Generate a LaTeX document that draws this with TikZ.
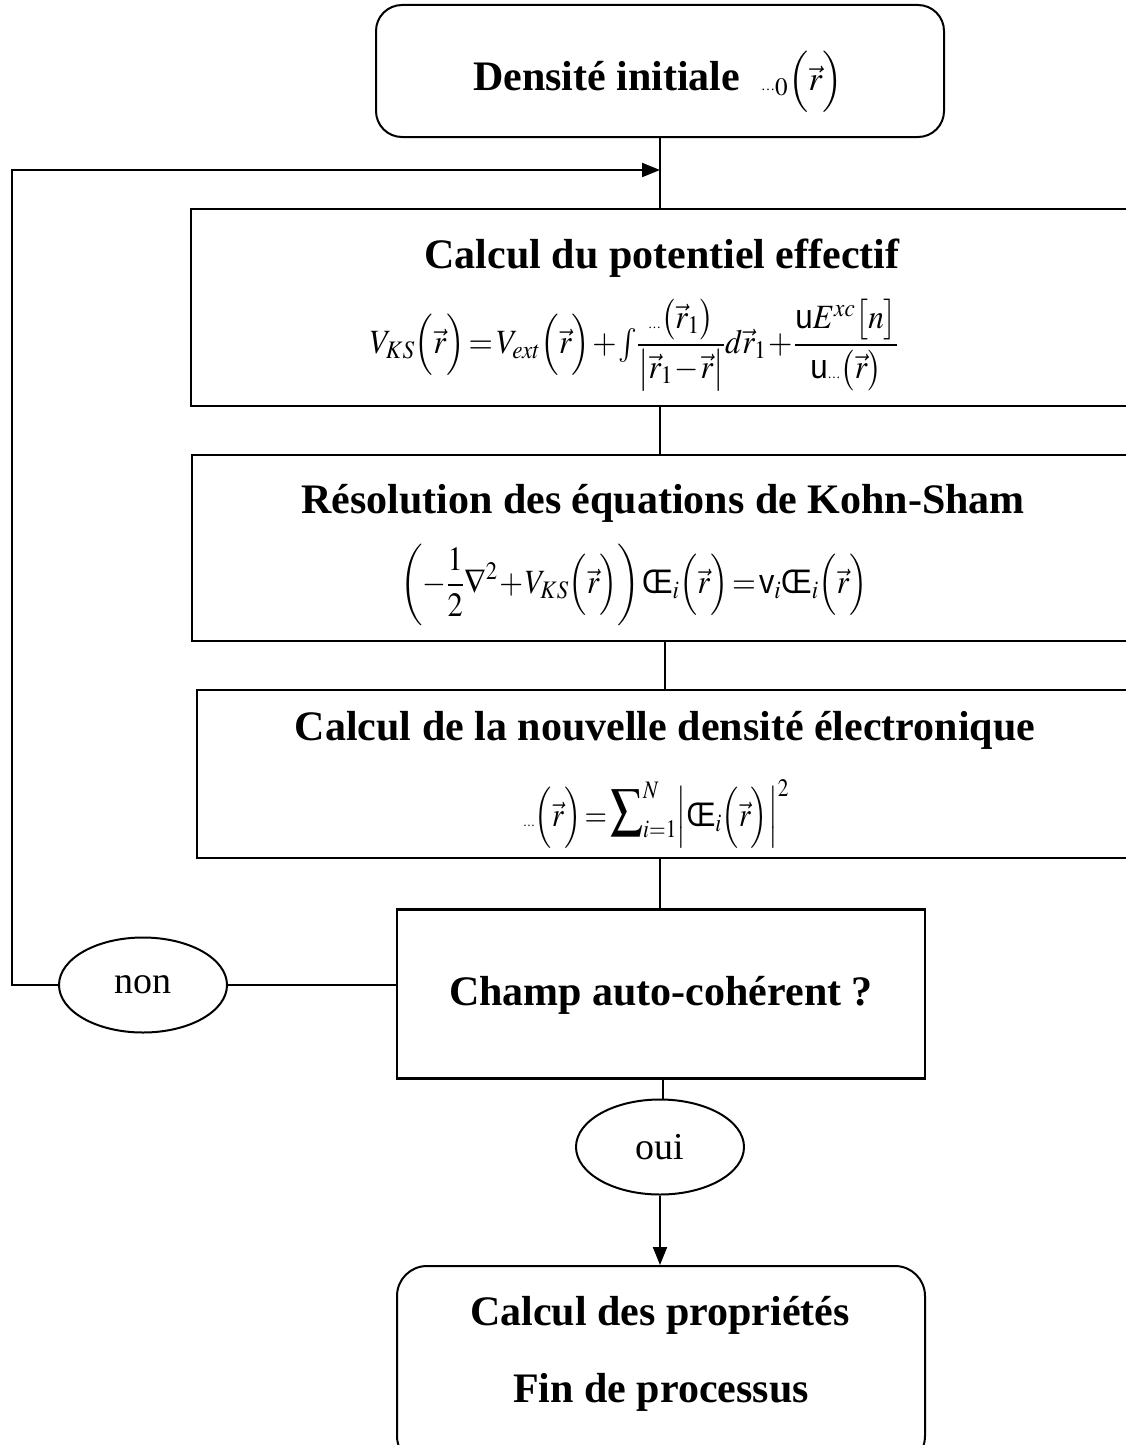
\documentclass[tikz,border=0pt]{standalone}
\usepackage{amsmath}
\usepackage{mathptmx}
\usepackage{fontspec}
\setmainfont{Liberation Serif}
\newfontfamily\garb{Liberation Sans}
\usetikzlibrary{arrows.meta,shapes.geometric}
\newcommand{\gr}{\text{\normalfont\fontsize{14}{14}\selectfont …}}
\newcommand{\gd}{\text{\garb u}}
\newcommand{\gpsi}{\text{\garb Œ}}
\newcommand{\geps}{\text{\garb v}}
\newcommand{\pr}{\Bigl(\vec{r}\Bigr)}
\newcommand{\prs}{\bigl(\vec{r}\bigr)}
\newcommand{\prone}{\bigl(\vec{r}_{1}\bigr)}
\newcommand{\tight}{\thickmuskip=2mu\medmuskip=1mu\thinmuskip=1mu}
\begin{document}
\begin{tikzpicture}[x=1pt,y=-1pt,
  boxst/.style={draw, line width=2.2pt, rectangle, inner sep=0pt},
  rbox/.style={draw, line width=2pt, rounded corners=26pt, rectangle, inner sep=0pt},
  ell/.style={draw, ellipse, line width=2pt, minimum width=168pt, minimum height=95pt, inner sep=0pt, font=\fontsize{38}{40}\selectfont},
  ttl/.style={anchor=base, font=\fontsize{42}{48}\selectfont\bfseries, inner sep=0pt},
  frm/.style={font=\fontsize{34}{40}\selectfont, inner sep=0pt},
  conn/.style={line width=2pt},
  arr/.style={line width=2pt, -{Triangle[length=18pt,width=14pt]}}
]
\useasboundingbox (0,0) rectangle (1125,1445);
% boxes
\node[rbox, minimum width=568pt, minimum height=132pt] (b1) at (660,71) {};
\node[boxst, minimum width=945pt, minimum height=197pt] (b2) at (663.5,307.5) {};
\node[boxst, minimum width=944pt, minimum height=186pt] (b3) at (664,548) {};
\node[boxst, minimum width=939pt, minimum height=168pt] (b4) at (666.5,774) {};
\node[boxst, minimum width=528pt, minimum height=169pt] (b5) at (661,994) {};
\node[rbox, rounded corners=30pt, minimum width=528pt, minimum height=200pt] (b6) at (661,1366) {};
\node[ell] (non) at (143,985) {non};
\node[ell] (oui) at (660,1147) {oui};
% texts
\node[ttl] (t1) at (658,90) {Densité initiale\ \ {\mdseries\fontsize{34}{40}\selectfont$\gr_{0}\pr$}};
\node[ttl] (t2) at (662,268) {Calcul du potentiel effectif};
\node[frm] (f2) at (634,345) {\scalebox{0.92}[1]{$\tight\displaystyle V_{KS}\pr=V_{ext}\pr+{\textstyle\int}\frac{\gr\prone}{\bigl|\vec r_{1}-\vec r\bigr|}d\vec r_{1}+\frac{\gd E^{xc}\bigl[n\bigr]}{\gd\gr\prs}$}};
\node[ttl] (t3) at (663,513) {Résolution des équations de Kohn-Sham};
\node[frm] (f3) at (634,585) {\scalebox{0.9}[1]{$\tight\displaystyle\left(-\frac{1}{2}\nabla^{2}+V_{KS}\pr\right)\gpsi_{i}\pr=\geps_{i}\gpsi_{i}\pr$}};
\node[ttl] (t4) at (665,740) {Calcul de la nouvelle densité électronique};
\node[frm] (f4) at (656,814) {\scalebox{0.85}[1]{$\tight\displaystyle\gr\pr=\mathop{\scalebox{1.6}{$\sum$}}\nolimits_{i=1}^{N}\Bigl|\gpsi_{i}\pr\Bigr|^{2}$}};
\node[ttl] (t5) at (661,1005) {Champ auto-cohérent ?};
\node[ttl] (t6a) at (660,1325) {Calcul des propriétés};
\node[ttl] (t6b) at (661,1402) {Fin de processus};
% connectors
\coordinate (jn) at (660,170);
\coordinate (cT) at (12,170);
\coordinate (cL) at (12,985);
\draw[conn] (b1.south) -- (b1.south |- b2.north);
\draw[conn] (jn |- b2.south) -- (jn |- b3.north);
\draw[conn] (665,0 |- b3.south) -- (665,0 |- b4.north);
\draw[conn] (jn |- b4.south) -- (jn |- b5.north);
\draw[conn] (non.east) -- (non.east -| b5.west);
\draw[arr] (non.west) -- (cL) -- (cT) -- (jn);
\draw[conn] (663,0 |- b5.south) -- (663,0 |- oui.north);
\draw[arr] (oui.south) -- (oui.south |- b6.north);
\end{tikzpicture}
\end{document}
